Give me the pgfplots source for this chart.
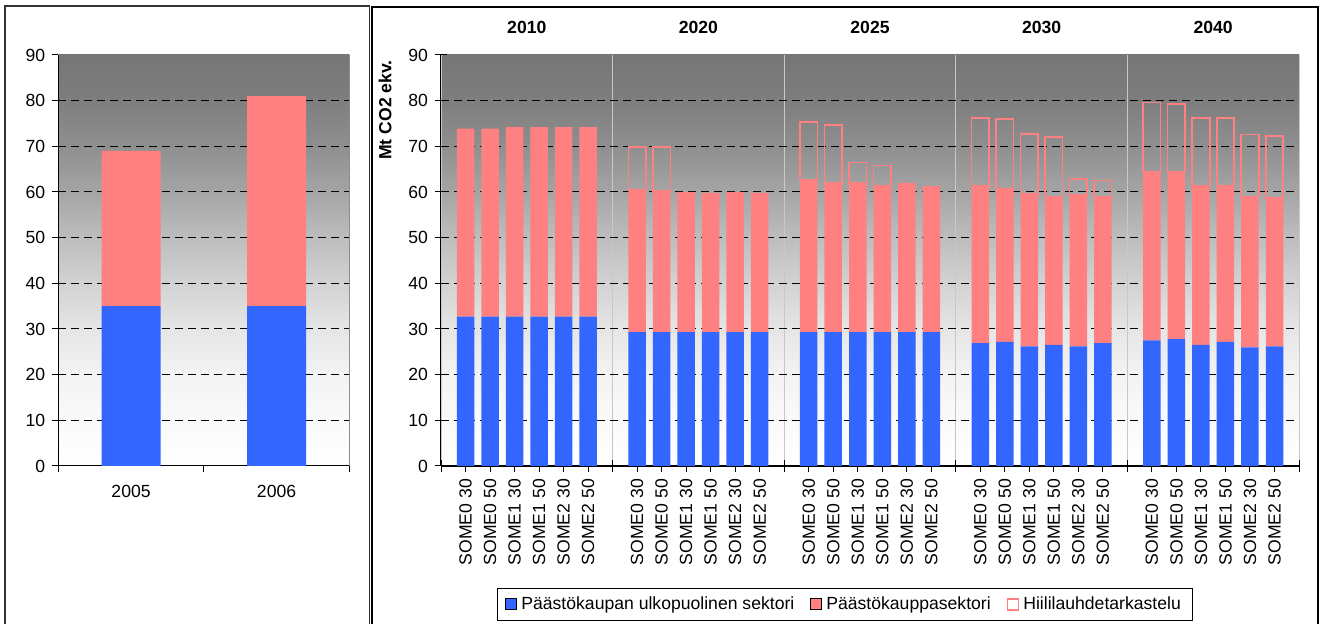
\documentclass[border=0pt]{standalone}
\usepackage{pgfplots}
\usepackage{pgfplotstable}
\pgfplotsset{compat=1.18}
\usepackage{fontspec}
\setmainfont{Liberation Sans}

\definecolor{barblue}{RGB}{51,102,255}
\definecolor{barred}{RGB}{255,128,128}
\definecolor{sepgray}{RGB}{200,200,200}
% plot-area background: white at the bottom, dark grey at the top
\definecolor{bg1}{gray}{0.98}
\definecolor{bg2}{gray}{0.953}
\definecolor{bg3}{gray}{0.90}
\definecolor{bg4}{gray}{0.824}
\definecolor{bg5}{gray}{0.741}
\definecolor{bg6}{gray}{0.647}
\definecolor{bg7}{gray}{0.561}
\definecolor{bg8}{gray}{0.494}
\definecolor{bg9}{gray}{0.463}
\pgfdeclareverticalshading{plotbg}{100bp}{color(0bp)=(white); color(25bp)=(white);
  color(30.56bp)=(bg1); color(36.1bp)=(bg2); color(41.7bp)=(bg3); color(47.2bp)=(bg4);
  color(52.8bp)=(bg5); color(58.3bp)=(bg6); color(63.9bp)=(bg7); color(69.4bp)=(bg8);
  color(75bp)=(bg9); color(100bp)=(bg9)}

% scenario bars: non-trading sector, trading sector, extra coal-condensing share
\pgfplotstableread{
x  blue  red   hollow
1  32.7  41.2  0
2  32.7  41.2  0
3  32.7  41.5  0
4  32.7  41.5  0
5  32.7  41.5  0
6  32.7  41.5  0
8  29.3  31.2  9.3
9  29.3  30.9  9.6
10 29.3  30.75 0
11 29.3  30.5  0
12 29.3  30.75 0
13 29.3  30.5  0
15 29.3  33.4  12.6
16 29.3  32.7  12.7
17 29.3  32.7  4.5
18 29.3  32.1  4.4
19 29.3  32.7  0
20 29.3  32.0  0
22 26.9  34.5  14.8
23 27.2  33.6  15.2
24 26.2  33.4  13.1
25 26.5  32.5  13.0
26 26.2  33.1  3.5
27 26.9  32.1  3.5
29 27.5  36.9  15.2
30 27.8  36.6  14.9
31 26.5  34.9  14.8
32 27.2  34.2  14.8
33 26.0  33.0  13.6
34 26.2  32.5  13.6
}\scenariodata

% historical emissions
\pgfplotstableread{
x blue red
0 35.0 34.0
1 35.0 46.0
}\historydata

\pgfplotsset{
  every axis/.append style={font=\fontsize{8.8}{10.5}\selectfont},
  chartbase/.style={
    scale only axis, anchor=south west,
    ymin=0, ymax=90, ytick={0,10,...,90},
    enlargelimits=false, clip=false,
    axis x line*=bottom, axis y line*=left,
    axis line style={-},
    axis background/.style={shade, shading=plotbg},
    /pgf/number format/assume math mode=true,
    tick style={black, line width=0.5pt},
    extra y ticks={10,20,...,80}, extra y tick labels={},
    extra y tick style={grid=major,
      major grid style={black, line width=0.5pt, dash pattern=on 4pt off 2.5pt}},
  },
  sqlegend/.style={legend image code/.code={\draw[##1] (0pt,-2.75pt) rectangle (5.5pt,2.75pt);}},
}

\begin{document}
\begin{tikzpicture}[font=\fontsize{8.8}{10.5}\selectfont]
\useasboundingbox (0,0) rectangle (660pt,312pt);
\draw[line width=0.6pt, black!80] (2.5pt,-5pt) rectangle (184.6pt,309pt);
\draw[line width=1pt] (186pt,-5pt) rectangle (659pt,308.7pt);

% 2005-2006
\begin{axis}[chartbase,
  at={(29.15pt,79pt)}, width=145.5pt, height=205.5pt,
  xmin=-0.5, xmax=1.5,
  ybar stacked, bar width=29.5pt,
  axis line style={line width=0.5pt},
  tick align=outside, major tick length=3pt,
  xtick={-0.5,0.5,1.5}, xticklabels={},
  extra x ticks={0,1}, extra x tick labels={2005,2006},
  extra x tick style={major tick length=0pt, xticklabel style={yshift=-6pt}},
]
\addplot[fill=barblue, draw=none] table[x=x, y=blue]{\historydata};
\addplot[fill=barred, draw=none] table[x=x, y=red]{\historydata};
\draw[black!45, line width=0.5pt] (rel axis cs:1,0) -- (rel axis cs:1,1);
\end{axis}

% scenarios
\begin{axis}[chartbase,
  at={(220.5pt,79pt)}, width=429pt, height=205.5pt,
  xmin=0, xmax=35,
  ybar stacked, bar width=8.75pt,
  axis line style={line width=1pt},
  tick align=center, major tick length=6pt,
  xtick={1,2,3,4,5,6,8,9,10,11,12,13,15,16,17,18,19,20,22,23,24,25,26,27,29,30,31,32,33,34},
  xticklabels={SOME0 30,SOME0 50,SOME1 30,SOME1 50,SOME2 30,SOME2 50,
               SOME0 30,SOME0 50,SOME1 30,SOME1 50,SOME2 30,SOME2 50,
               SOME0 30,SOME0 50,SOME1 30,SOME1 50,SOME2 30,SOME2 50,
               SOME0 30,SOME0 50,SOME1 30,SOME1 50,SOME2 30,SOME2 50,
               SOME0 30,SOME0 50,SOME1 30,SOME1 50,SOME2 30,SOME2 50},
  xticklabel style={rotate=90, anchor=east},
  extra x ticks={0,7,14,21,28,35}, extra x tick labels={},
  extra x tick style={grid=major, major grid style={sepgray, line width=0.5pt}},
  legend columns=3,
  legend style={at={(0.471,-0.2968)}, anchor=north, draw=black, line width=0.5pt,
    font=\fontsize{8.8}{10.5}\selectfont, inner xsep=4pt, inner ysep=2pt,
    /tikz/every even column/.append style={column sep=6pt}},
]
\addplot[fill=barblue, draw=none, sqlegend] table[x=x, y=blue]{\scenariodata};
\addplot[fill=barred, draw=none, sqlegend] table[x=x, y=red]{\scenariodata};
\addplot[fill=none, draw=barred, line width=0.8pt, sqlegend] table[x=x, y=hollow]{\scenariodata};
\legend{Päästökaupan ulkopuolinen sektori, Päästökauppasektori, Hiililauhdetarkastelu}
\node[font=\fontsize{8.8}{10.5}\selectfont\bfseries] at (axis description cs:0.1,1.068) {2010};
\node[font=\fontsize{8.8}{10.5}\selectfont\bfseries] at (axis description cs:0.3,1.068) {2020};
\node[font=\fontsize{8.8}{10.5}\selectfont\bfseries] at (axis description cs:0.5,1.068) {2025};
\node[font=\fontsize{8.8}{10.5}\selectfont\bfseries] at (axis description cs:0.7,1.068) {2030};
\node[font=\fontsize{8.8}{10.5}\selectfont\bfseries] at (axis description cs:0.9,1.068) {2040};
\node[rotate=90, anchor=east, inner sep=0pt, font=\fontsize{8.8}{10.5}\selectfont\bfseries]
  at (axis description cs:-0.0653,0.988) {Mt CO2 ekv.};
\end{axis}
\end{tikzpicture}
\end{document}
